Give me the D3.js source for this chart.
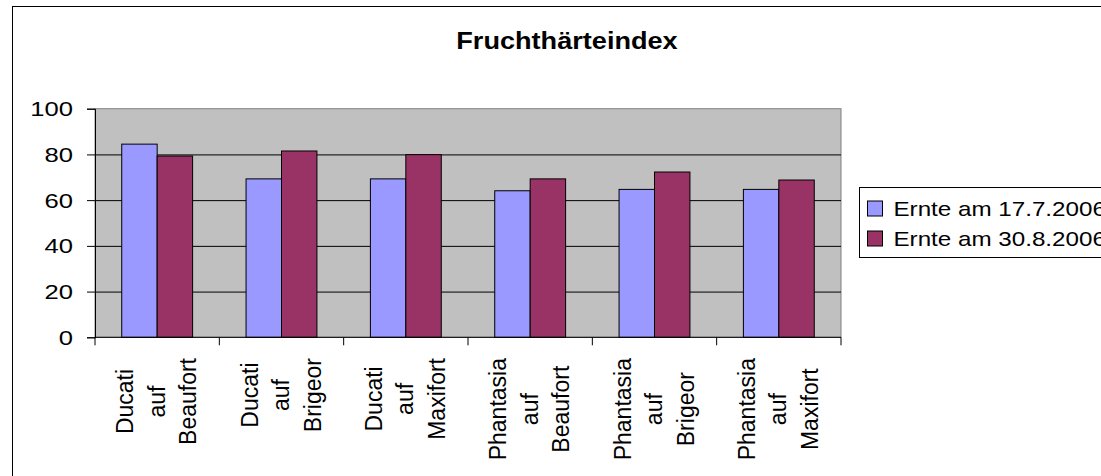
<!DOCTYPE html>
<html>
<head>
<meta charset="utf-8">
<script src="https://cdn.jsdelivr.net/npm/d3@7"></script>
<style>
  body { margin: 0; background: #fff; }
  text { font-family: Arial, "Liberation Sans", sans-serif; fill: #000; }
</style>
</head>
<body>
<svg id="chart" width="1101" height="476"></svg>
<script>
// data
const categories = [
  ["Ducati", "auf", "Beaufort"],
  ["Ducati", "auf", "Brigeor"],
  ["Ducati", "auf", "Maxifort"],
  ["Phantasia", "auf", "Beaufort"],
  ["Phantasia", "auf", "Brigeor"],
  ["Phantasia", "auf", "Maxifort"]
];
const ernte1 = [84.5, 69.3, 69.3, 64.1, 64.7, 64.7];
const ernte2 = [79.3, 81.5, 79.9, 69.3, 72.3, 68.8];
const seriesNames = ["Ernte am 17.7.2006", "Ernte am 30.8.2006"];
const seriesColors = ["#9999FF", "#993366"];
const yTicks = [0, 20, 40, 60, 80, 100];
const title = "Fruchthärteindex";

const svg = d3.select("#chart");

// plot area
const plotLeft = 95, plotRight = 841, plotTop = 108.7, plotBottom = 337.3;

// outer chart border (runs off the page right and bottom)
svg.append("rect")
  .attr("x", 12.5).attr("y", 6.5)
  .attr("width", 1200).attr("height", 600)
  .attr("fill", "#fff").attr("stroke", "#000").attr("stroke-width", 1);

const idx = d3.range(categories.length);
const x = d3.scaleBand().domain(idx).range([plotLeft, plotRight])
  .paddingInner(0.43).paddingOuter(0.215);
const xs = d3.scaleBand().domain([0, 1]).range([0, x.bandwidth()]);
const y = d3.scaleLinear().domain([0, 100]).range([plotBottom, plotTop]);

svg.append("rect")
  .attr("x", plotLeft).attr("y", plotTop)
  .attr("width", plotRight - plotLeft).attr("height", plotBottom - plotTop)
  .attr("fill", "#C0C0C0").attr("stroke", "#808080");

// gridlines
const grid = svg.append("g")
  .attr("transform", `translate(${plotLeft},0)`)
  .call(d3.axisLeft(y).tickValues(yTicks.slice(1, -1)).tickSize(-(plotRight - plotLeft)).tickFormat(""));
grid.select(".domain").remove();
grid.selectAll("line").attr("stroke", "#000");

// bars
const series = [ernte1, ernte2];
series.forEach((vals, s) => {
  svg.append("g").selectAll("rect")
    .data(vals)
    .join("rect")
      .attr("x", (d, i) => x(i) + xs(s))
      .attr("y", d => y(d))
      .attr("width", xs.bandwidth())
      .attr("height", d => plotBottom - y(d))
      .attr("fill", seriesColors[s])
      .attr("stroke", "#000")
      .attr("stroke-width", 1);
});

// y axis
const yAxisG = svg.append("g")
  .attr("transform", `translate(${plotLeft},0)`)
  .call(d3.axisLeft(y).tickValues(yTicks).tickSize(8).tickFormat(d3.format("d")));
yAxisG.select(".domain").attr("stroke", "#000");
yAxisG.selectAll("line").attr("stroke", "#000");
yAxisG.selectAll("text")
  .attr("x", 0).attr("dy", null).attr("y", 7)
  .attr("font-size", "20px")
  .attr("font-family", "Arial, 'Liberation Sans', sans-serif")
  .attr("transform", "translate(-22,0) scale(1.28,1)");

// x axis line + ticks on category boundaries
const step = x.step();
const xTickPos = d3.range(categories.length + 1).map(k => plotLeft + k * step);
svg.append("line")
  .attr("x1", plotLeft).attr("x2", plotRight).attr("y1", plotBottom).attr("y2", plotBottom)
  .attr("stroke", "#000");
svg.append("g").selectAll("line")
  .data(xTickPos)
  .join("line")
    .attr("x1", d => d).attr("x2", d => d)
    .attr("y1", plotBottom).attr("y2", plotBottom + 8)
    .attr("stroke", "#000");

// category labels, rotated, 3 lines each
const labelTop = 358;
categories.forEach((lines, i) => {
  const cx = x(i) + x.bandwidth() / 2;
  const g = svg.append("g").attr("transform", `translate(${cx},${labelTop}) rotate(-90)`);
  const t = g.selectAll("text")
    .data(lines)
    .join("text")
      .attr("font-size", "23px")
      .attr("text-anchor", "middle")
      .attr("y", (d, j) => 7.5 + (j - 1) * 31.5)
      .text(d => d);
  let maxLen = 0;
  t.each(function () { maxLen = Math.max(maxLen, this.getComputedTextLength()); });
  t.attr("x", -maxLen / 2);
});

// title
svg.append("text")
  .attr("x", 0).attr("y", 0)
  .attr("transform", "translate(567,49) scale(1.13,1)")
  .attr("text-anchor", "middle")
  .attr("font-size", "24px")
  .attr("font-weight", "bold")
  .text(title);

// legend
const legend = svg.append("g").attr("transform", "translate(859.5,187.5)");
legend.append("rect")
  .attr("width", 400).attr("height", 70)
  .attr("fill", "#fff").attr("stroke", "#000");
const items = legend.selectAll("g.item")
  .data(seriesNames)
  .join("g")
    .attr("class", "item")
    .attr("transform", (d, i) => `translate(0,${i * 30})`);
items.append("rect")
  .attr("x", 8).attr("y", 13.5)
  .attr("width", 15).attr("height", 15)
  .attr("fill", (d, i) => seriesColors[i])
  .attr("stroke", "#000");
items.append("text")
  .attr("transform", "translate(34,28.5) scale(1.18,1)")
  .attr("font-size", "20.5px")
  .text(d => d);
</script>
</body>
</html>
